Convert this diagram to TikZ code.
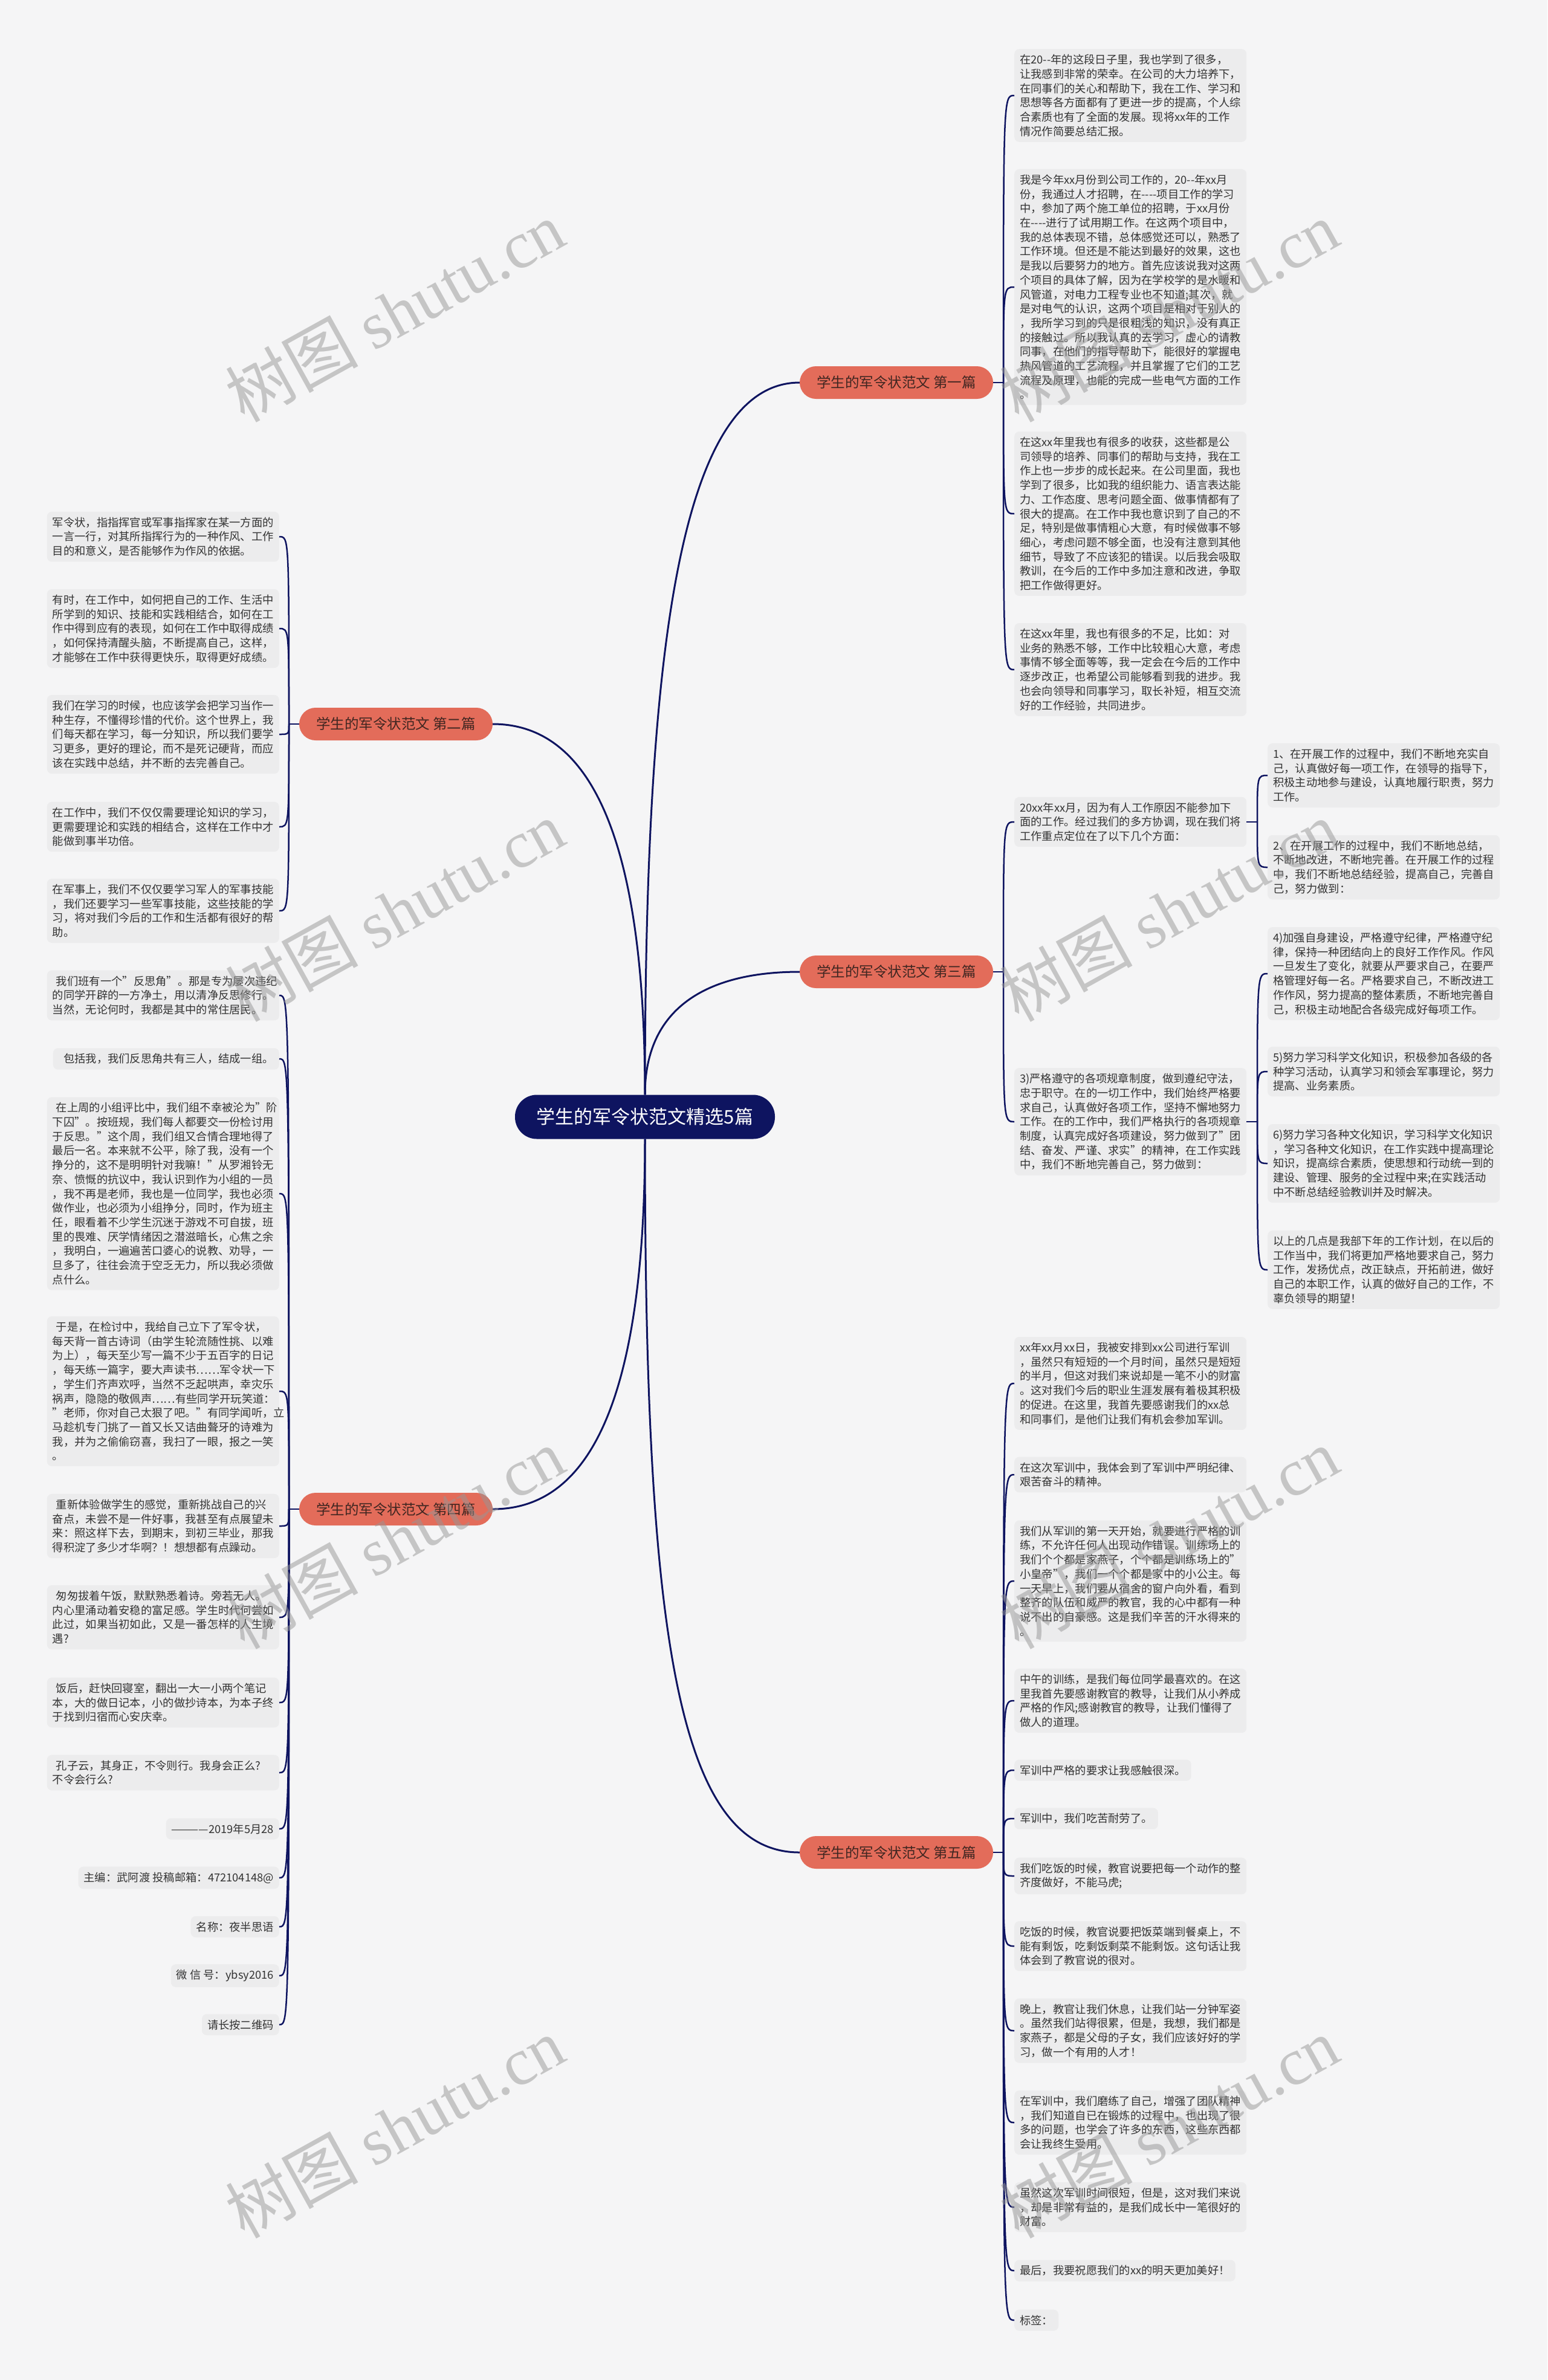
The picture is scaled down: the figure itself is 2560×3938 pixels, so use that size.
\documentclass[tikz,border=0pt]{standalone}
\usepackage{fontspec}
\setmainfont{Noto Sans CJK SC}
\newfontfamily\wmfont{Liberation Serif}
\definecolor{navy}{RGB}{14,20,96}
\definecolor{salmon}{RGB}{227,108,90}
\definecolor{paper}{RGB}{245,245,246}
\definecolor{cardfill}{RGB}{236,236,237}
\definecolor{inkgray}{RGB}{51,51,51}
\definecolor{wmgray}{RGB}{150,150,150}
\tikzset{
  hub/.style={fill=navy, text=white, rounded corners=36pt, minimum width=430pt, minimum height=73pt, font=\fontsize{31}{36}\selectfont},
  branch/.style={fill=salmon, text={rgb,255:red,64;green,38;blue,33}, rounded corners=27pt, minimum width=320pt, minimum height=54pt, font=\fontsize{23.5}{28}\selectfont},
  leaf/.style={fill=cardfill, text=inkgray, rounded corners=8pt, inner xsep=9pt, inner ysep=9pt, text width=366pt, align=left, font=\fontsize{18.3}{23.7}\selectfont},
  note/.style={fill=cardfill, text=inkgray, rounded corners=8pt, inner xsep=9pt, inner ysep=9pt, font=\fontsize{18.3}{23.7}\selectfont},
  link/.style={draw=navy, line width=3pt},
  twig/.style={draw=navy, line width=2.5pt},
  water/.style={text=wmgray, text opacity=0.5, rotate=29, font=\fontsize{110}{115}\selectfont}
}
\begin{document}
\begin{tikzpicture}[x=1pt, y=-1pt]
	\fill[paper] (0,0) rectangle (2560,3938);
	\useasboundingbox (0,0) rectangle (2560,3938);

	\node[hub] (hub) at (1067,1848) {学生的军令状范文精选5篇};
	\node[branch] (b1) at (1483,633) {学生的军令状范文 第一篇};
	\node[branch] (b2) at (655,1198) {学生的军令状范文 第二篇};
	\node[branch] (b3) at (1483,1608) {学生的军令状范文 第三篇};
	\node[branch] (b4) at (655,2497) {学生的军令状范文 第四篇};
	\node[branch] (b5) at (1483,3065) {学生的军令状范文 第五篇};

	\draw[link] (hub.north) .. controls (1067,1100) and (1120,633) .. (b1.west);
	\draw[link] (hub.north) .. controls (1067,1660) and (1180,1608) .. (b3.west);
	\draw[link] (hub.north) .. controls (1067,1350) and (960,1198) .. (b2.east);
	\draw[link] (hub.south) .. controls (1067,2350) and (960,2497) .. (b4.east);
	\draw[link] (hub.south) .. controls (1067,2700) and (1120,3065) .. (b5.west);

	\node[leaf, anchor=west] (l1a) at (1678,158) {在20{-}{-}年的这段日子里，我也学到了很多，\\让我感到非常的荣幸。在公司的大力培养下，\\在同事们的关心和帮助下，我在工作、学习和\\思想等各方面都有了更进一步的提高，个人综\\合素质也有了全面的发展。现将xx年的工作\\情况作简要总结汇报。};
	\node[leaf, anchor=west] (l1b) at (1678,475) {我是今年xx月份到公司工作的，20{-}{-}年xx月\\份，我通过人才招聘，在{-}{-}{-}{-}项目工作的学习\\中，参加了两个施工单位的招聘，于xx月份\\在{-}{-}{-}{-}进行了试用期工作。在这两个项目中，\\我的总体表现不错，总体感觉还可以，熟悉了\\工作环境。但还是不能达到最好的效果，这也\\是我以后要努力的地方。首先应该说我对这两\\个项目的具体了解，因为在学校学的是水暖和\\风管道，对电力工程专业也不知道;其次，就\\是对电气的认识，这两个项目是相对于别人的\\，我所学习到的只是很粗浅的知识，没有真正\\的接触过。所以我认真的去学习，虚心的请教\\同事，在他们的指导帮助下，能很好的掌握电\\热风管道的工艺流程，并且掌握了它们的工艺\\流程及原理，也能的完成一些电气方面的工作\\。};
	\node[leaf, anchor=west] (l1c) at (1678,850) {在这xx年里我也有很多的收获，这些都是公\\司领导的培养、同事们的帮助与支持，我在工\\作上也一步步的成长起来。在公司里面，我也\\学到了很多，比如我的组织能力、语言表达能\\力、工作态度、思考问题全面、做事情都有了\\很大的提高。在工作中我也意识到了自己的不\\足，特别是做事情粗心大意，有时候做事不够\\细心，考虑问题不够全面，也没有注意到其他\\细节，导致了不应该犯的错误。以后我会吸取\\教训，在今后的工作中多加注意和改进，争取\\把工作做得更好。};
	\node[leaf, anchor=west] (l1d) at (1678,1108) {在这xx年里，我也有很多的不足，比如：对\\业务的熟悉不够，工作中比较粗心大意，考虑\\事情不够全面等等，我一定会在今后的工作中\\逐步改正，也希望公司能够看到我的进步。我\\也会向领导和同事学习，取长补短，相互交流\\好的工作经验，共同进步。};

	\node[leaf, anchor=west] (l3a) at (1678,1360) {20xx年xx月，因为有人工作原因不能参加下\\面的工作。经过我们的多方协调，现在我们将\\工作重点定位在了以下几个方面：};
	\node[leaf, anchor=west] (l3b) at (1678,1856) {3)严格遵守的各项规章制度，做到遵纪守法，\\忠于职守。在的一切工作中，我们始终严格要\\求自己，认真做好各项工作，坚持不懈地努力\\工作。在的工作中，我们严格执行的各项规章\\制度，认真完成好各项建设，努力做到了"团\\结、奋发、严谨、求实"的精神，在工作实践\\中，我们不断地完善自己，努力做到：};
	\node[leaf, anchor=west] (c31) at (2097,1283) {1、在开展工作的过程中，我们不断地充实自\\己，认真做好每一项工作，在领导的指导下，\\积极主动地参与建设，认真地履行职责，努力\\工作。};
	\node[leaf, anchor=west] (c32) at (2097,1435) {2、在开展工作的过程中，我们不断地总结，\\不断地改进，不断地完善。在开展工作的过程\\中，我们不断地总结经验，提高自己，完善自\\己，努力做到：};
	\node[leaf, anchor=west] (c34) at (2097,1611) {4)加强自身建设，严格遵守纪律，严格遵守纪\\律，保持一种团结向上的良好工作作风。作风\\一旦发生了变化，就要从严要求自己，在要严\\格管理好每一名。严格要求自己，不断改进工\\作作风，努力提高的整体素质，不断地完善自\\己，积极主动地配合各级完成好每项工作。};
	\node[leaf, anchor=west] (c35) at (2097,1773) {5)努力学习科学文化知识，积极参加各级的各\\种学习活动，认真学习和领会军事理论，努力\\提高、业务素质。};
	\node[leaf, anchor=west] (c36) at (2097,1925) {6)努力学习各种文化知识，学习科学文化知识\\，学习各种文化知识，在工作实践中提高理论\\知识，提高综合素质，使思想和行动统一到的\\建设、管理、服务的全过程中来;在实践活动\\中不断总结经验教训并及时解决。};
	\node[leaf, anchor=west] (c37) at (2097,2101) {以上的几点是我部下年的工作计划，在以后的\\工作当中，我们将更加严格地要求自己，努力\\工作，发扬优点，改正缺点，开拓前进，做好\\自己的本职工作，认真的做好自己的工作，不\\辜负领导的期望！};

	\node[leaf, anchor=west] (e1) at (1678,2289) {xx年xx月xx日，我被安排到xx公司进行军训\\，虽然只有短短的一个月时间，虽然只是短短\\的半月，但这对我们来说却是一笔不小的财富\\。这对我们今后的职业生涯发展有着极其积极\\的促进。在这里，我首先要感谢我们的xx总\\和同事们，是他们让我们有机会参加军训。};
	\node[leaf, anchor=west] (e2) at (1678,2440) {在这次军训中，我体会到了军训中严明纪律、\\艰苦奋斗的精神。};
	\node[leaf, anchor=west] (e3) at (1678,2616) {我们从军训的第一天开始，就要进行严格的训\\练，不允许任何人出现动作错误。训练场上的\\我们个个都是家燕子，个个都是训练场上的"\\小皇帝"，我们一个个都是家中的小公主。每\\一天早上，我们要从宿舍的窗户向外看，看到\\整齐的队伍和威严的教官，我的心中都有一种\\说不出的自豪感。这是我们辛苦的汗水得来的\\。};
	\node[leaf, anchor=west] (e4) at (1678,2814) {中午的训练，是我们每位同学最喜欢的。在这\\里我首先要感谢教官的教导，让我们从小养成\\严格的作风;感谢教官的教导，让我们懂得了\\做人的道理。};
	\node[note, anchor=west] (e5) at (1678,2929) {军训中严格的要求让我感触很深。};
	\node[note, anchor=west] (e6) at (1678,3009) {军训中，我们吃苦耐劳了。};
	\node[leaf, anchor=west] (e7) at (1678,3104) {我们吃饭的时候，教官说要把每一个动作的整\\齐度做好，不能马虎;};
	\node[leaf, anchor=west] (e8) at (1678,3220) {吃饭的时候，教官说要把饭菜端到餐桌上，不\\能有剩饭，吃剩饭剩菜不能剩饭。这句话让我\\体会到了教官说的很对。};
	\node[leaf, anchor=west] (e9) at (1678,3360) {晚上，教官让我们休息，让我们站一分钟军姿\\。虽然我们站得很累，但是，我想，我们都是\\家燕子，都是父母的子女，我们应该好好的学\\习，做一个有用的人才！};
	\node[leaf, anchor=west] (e10) at (1678,3512) {在军训中，我们磨练了自己，增强了团队精神\\，我们知道自已在锻炼的过程中，也出现了很\\多的问题，也学会了许多的东西，这些东西都\\会让我终生受用。};
	\node[leaf, anchor=west] (e11) at (1678,3652) {虽然这次军训时间很短，但是，这对我们来说\\，却是非常有益的，是我们成长中一笔很好的\\财富。};
	\node[note, anchor=west] (e12) at (1678,3757) {最后，我要祝愿我们的xx的明天更加美好！};
	\node[note, anchor=west] (e13) at (1678,3839) {标签：};

	\node[leaf, anchor=east] (d1) at (462,888) {军令状，指指挥官或军事指挥家在某一方面的\\一言一行，对其所指挥行为的一种作风、工作\\目的和意义，是否能够作为作风的依据。};
	\node[leaf, anchor=east] (d2) at (462,1040) {有时，在工作中，如何把自己的工作、生活中\\所学到的知识、技能和实践相结合，如何在工\\作中得到应有的表现，如何在工作中取得成绩\\，如何保持清醒头脑，不断提高自己，这样，\\才能够在工作中获得更快乐，取得更好成绩。};
	\node[leaf, anchor=east] (d3) at (462,1215) {我们在学习的时候，也应该学会把学习当作一\\种生存，不懂得珍惜的代价。这个世界上，我\\们每天都在学习，每一分知识，所以我们要学\\习更多，更好的理论，而不是死记硬背，而应\\该在实践中总结，并不断的去完善自己。};
	\node[leaf, anchor=east] (d4) at (462,1368) {在工作中，我们不仅仅需要理论知识的学习，\\更需要理论和实践的相结合，这样在工作中才\\能做到事半功倍。};
	\node[leaf, anchor=east] (d5) at (462,1507) {在军事上，我们不仅仅要学习军人的军事技能\\，我们还要学习一些军事技能，这些技能的学\\习，将对我们今后的工作和生活都有很好的帮\\助。};

	\node[leaf, anchor=east] (f1) at (462,1647) {\ 我们班有一个"反思角"。那是专为屡次违纪\\的同学开辟的一方净土，用以清净反思修行。\\当然，无论何时，我都是其中的常住居民。};
	\node[note, anchor=east] (f2) at (462,1752) {\ \ 包括我，我们反思角共有三人，结成一组。};
	\node[leaf, anchor=east] (f3) at (462,1975) {\ 在上周的小组评比中，我们组不幸被沦为"阶\\下囚"。按班规，我们每人都要交一份检讨用\\于反思。"这个周，我们组又合情合理地得了\\最后一名。本来就不公平，除了我，没有一个\\挣分的，这不是明明针对我嘛！"从罗湘铃无\\奈、愤慨的抗议中，我认识到作为小组的一员\\，我不再是老师，我也是一位同学，我也必须\\做作业，也必须为小组挣分，同时，作为班主\\任，眼看着不少学生沉迷于游戏不可自拔，班\\里的畏难、厌学情绪因之潜滋暗长，心焦之余\\，我明白，一遍遍苦口婆心的说教、劝导，一\\旦多了，往往会流于空乏无力，所以我必须做\\点什么。};
	\node[leaf, anchor=east] (f4) at (462,2302) {\ 于是，在检讨中，我给自己立下了军令状，\\每天背一首古诗词（由学生轮流随性挑、以难\\为上），每天至少写一篇不少于五百字的日记\\，每天练一篇字，要大声读书……军令状一下\\，学生们齐声欢呼，当然不乏起哄声，幸灾乐\\祸声，隐隐的敬佩声……有些同学开玩笑道：\\"老师，你对自己太狠了吧。"有同学闻听，立\\马趁机专门挑了一首又长又诘曲聱牙的诗难为\\我，并为之偷偷窃喜，我扫了一眼，报之一笑\\。};
	\node[leaf, anchor=east] (f5) at (462,2525) {\ 重新体验做学生的感觉，重新挑战自己的兴\\奋点，未尝不是一件好事，我甚至有点展望未\\来：照这样下去，到期末，到初三毕业，那我\\得积淀了多少才华啊？！想想都有点躁动。};
	\node[leaf, anchor=east] (f6) at (462,2676) {\ 匆匆拔着午饭，默默熟悉着诗。旁若无人。\\内心里涌动着安稳的富足感。学生时代何尝如\\此过，如果当初如此，又是一番怎样的人生境\\遇?};
	\node[leaf, anchor=east] (f7) at (462,2817) {\ 饭后，赶快回寝室，翻出一大一小两个笔记\\本，大的做日记本，小的做抄诗本，为本子终\\于找到归宿而心安庆幸。};
	\node[leaf, anchor=east] (f8) at (462,2933) {\ 孔子云，其身正，不令则行。我身会正么?\\不令会行么?};
	\node[note, anchor=east] (f9) at (462,3026) {————2019年5月28};
	\node[note, anchor=east] (f10) at (462,3107) {主编：武阿渡 投稿邮箱：472104148@};
	\node[note, anchor=east] (f11) at (462,3188) {名称：夜半思语};
	\node[note, anchor=east] (f12) at (462,3269) {微 信 号：ybsy2016};
	\node[note, anchor=east] (f13) at (462,3350) {请长按二维码};

	\coordinate (j1) at (1660,633);
	\coordinate (j2) at (478,1198);
	\coordinate (j3) at (1660,1608);
	\coordinate (j3a) at (2080,1360);
	\coordinate (j3b) at (2080,1856);
	\coordinate (j4) at (478,2497);
	\coordinate (j5) at (1660,3065);

	\draw[twig] (b1.east) -- (j1);
	\draw[twig] (b2.west) -- (j2);
	\draw[twig] (b3.east) -- (j3);
	\draw[twig] (b4.west) -- (j4);
	\draw[twig] (b5.east) -- (j5);
	\draw[twig] (l3a.east) -- (j3a);
	\draw[twig] (l3b.east) -- (j3b);

	\foreach \n in {l1a,l1b,l1c,l1d}
		\draw[twig] (j1) .. controls (j1 |- \n.west) .. (\n.west);
	\foreach \n in {l3a,l3b}
		\draw[twig] (j3) .. controls (j3 |- \n.west) .. (\n.west);
	\foreach \n in {c31,c32}
		\draw[twig] (j3a) .. controls (j3a |- \n.west) .. (\n.west);
	\foreach \n in {c34,c35,c36,c37}
		\draw[twig] (j3b) .. controls (j3b |- \n.west) .. (\n.west);
	\foreach \n in {e1,e2,e3,e4,e5,e6,e7,e8,e9,e10,e11,e12,e13}
		\draw[twig] (j5) .. controls (j5 |- \n.west) .. (\n.west);
	\foreach \n in {d1,d2,d3,d4,d5}
		\draw[twig] (j2) .. controls (j2 |- \n.east) .. (\n.east);
	\foreach \n in {f1,f2,f3,f4,f5,f6,f7,f8,f9,f10,f11,f12,f13}
		\draw[twig] (j4) .. controls (j4 |- \n.east) .. (\n.east);

	\foreach \wx/\wy in {653/515, 1934/515, 653/1507, 1934/1507, 653/2545, 1934/2545, 653/3520, 1934/3520}
		\node[water] at (\wx,\wy) {树图 {\wmfont shutu.cn}};
\end{tikzpicture}
\end{document}
